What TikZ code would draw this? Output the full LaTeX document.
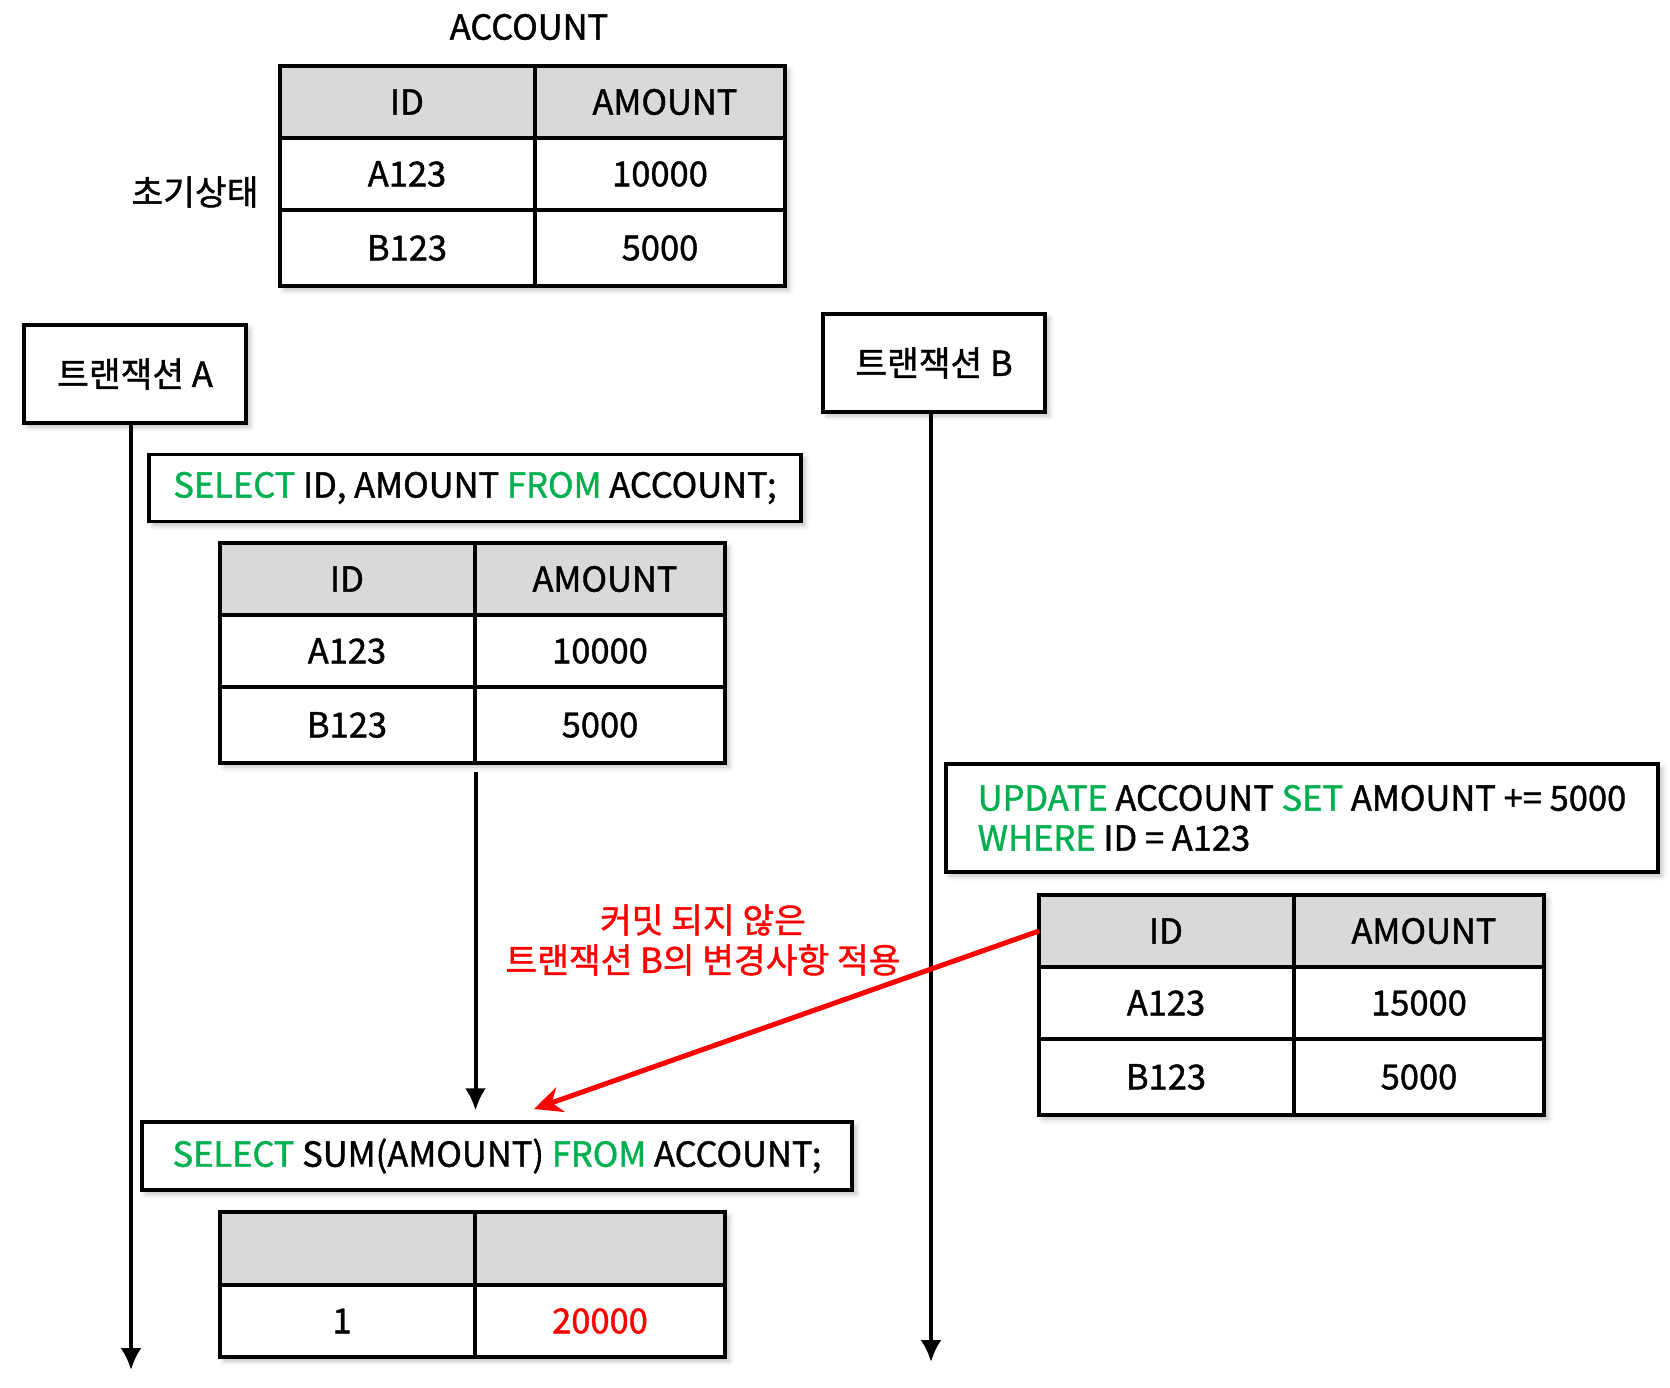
\documentclass[tikz,border=0pt]{standalone}
\usepackage{fontspec}
\setmainfont{Noto Sans CJK KR}[FakeBold=1.2]
\usetikzlibrary{arrows.meta,shadows.blur}
\definecolor{sqlgreen}{RGB}{0,176,80}
\definecolor{hdrgray}{RGB}{217,217,217}
\newcommand{\kw}[1]{\textcolor{sqlgreen}{#1}}
% two-column table: name, left, top, six cell texts
\newcommand{\acctable}[9]{%
\begin{scope}[shift={(#2,#3)}]
\node[tablebg] (#1) at (0,0) {};
\fill[hdrgray] (0,0) rectangle (505,72);
\draw (0,72) -- (505,72) (0,144) -- (505,144) (255,0) -- (255,220);
\draw (0,0) rectangle (505,220);
\node (#1h1) at (127,36) {#4};
\node (#1h2) at (385,36) {#5};
\node (#1a1) at (127,108) {#6};
\node (#1a2) at (380,108) {#7};
\node (#1b1) at (127,182) {#8};
\node (#1b2) at (380,182) {#9};
\end{scope}}

\begin{document}
\begin{tikzpicture}[x=1pt,y=-1pt,>={Latex[length=22pt,width=21pt]},line width=3.3pt,
  every node/.style={font=\fontsize{34.5}{40}\selectfont},
  box/.style={draw,fill=white,inner sep=0pt,
    blur shadow={shadow xshift=4pt,shadow yshift=-4pt,shadow opacity=25,shadow blur radius=5pt}},
  tablebg/.style={anchor=north west,fill=white,minimum width=505pt,minimum height=220pt,
    inner sep=0pt,outer sep=0pt,
    blur shadow={shadow xshift=4pt,shadow yshift=-4pt,shadow opacity=25,shadow blur radius=5pt}},
  flow/.style={->,line width=4pt}]
\useasboundingbox (0,0) rectangle (1670,1388);

% initial state
\node (title) at (529,27) {ACCOUNT};
\node (init) at (195,192) {초기상태};
\acctable{tinit}{280}{66}{ID}{AMOUNT}{A123}{10000}{B123}{5000}

% the two transactions
\node[box,minimum width=222pt,minimum height=98pt] (ta) at (135,374) {트랜잭션 A};
\node[box,minimum width=222pt,minimum height=98pt] (tb) at (934,363) {트랜잭션 B};
\coordinate (enda) at (131,1370);
\coordinate (endb) at (931,1362);
\draw[flow] (ta.south -| enda) -- (enda);
\draw[flow] (tb.south -| endb) -- (endb);

% A reads
\node[box,minimum width=652pt,minimum height=67pt] (q1) at (475,488)
  {\kw{SELECT} ID, AMOUNT \kw{FROM} ACCOUNT;};
\acctable{tread}{220}{543}{ID}{AMOUNT}{A123}{10000}{B123}{5000}

% B updates
\node[box,minimum width=712pt,minimum height=108pt,align=left] (upd) at (1302,818)
  {\kw{UPDATE} ACCOUNT \kw{SET} AMOUNT += 5000\\\kw{WHERE} ID = A123};
\acctable{tupd}{1039}{895}{ID}{AMOUNT}{A123}{15000}{B123}{5000}

% A sums
\node[box,minimum width=710pt,minimum height=68pt] (q2) at (497,1156)
  {\kw{SELECT} SUM(AMOUNT) \kw{FROM} ACCOUNT;};
\begin{scope}[shift={(220,1212)}]
\node[tablebg,minimum height=145pt] (tsum) at (0,0) {};
\fill[hdrgray] (0,0) rectangle (505,73);
\draw (0,73) -- (505,73) (255,0) -- (255,145);
\draw (0,0) rectangle (505,145);
\node (cnt) at (122,109) {1};
\node[red] (total) at (380,109) {20000};
\end{scope}

\draw[flow] ([xshift=3pt,yshift=-9pt]tread.south) -- ([xshift=3pt,yshift=10pt]tread.south |- q2.north);

% dirty read
\node[red,align=center] (note) at (703,940) {커밋 되지 않은\\트랜잭션 B의 변경사항 적용};
\coordinate (hit) at (534,1109);
\draw[red,line width=5pt,-{Stealth[length=28pt,width=26pt]}] ([yshift=-36pt]tupd.north west) -- (hit);
\end{tikzpicture}
\end{document}
